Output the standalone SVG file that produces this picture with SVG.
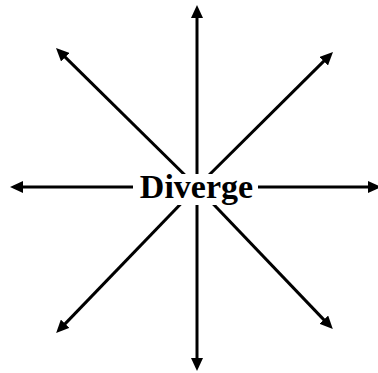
<svg xmlns="http://www.w3.org/2000/svg" width="378" height="373" viewBox="0 0 378 373">
<defs>
<marker id="ah" markerUnits="userSpaceOnUse" markerWidth="13" markerHeight="12" refX="4" refY="6" orient="auto" viewBox="0 0 13 12">
<path d="M0,0 L13,6 L0,12 z" fill="#000"/>
</marker>
<style>
.c{stroke:#000;stroke-width:3;fill:none;marker-end:url(#ah)}
.t{font-family:"Liberation Serif","Times New Roman",serif;font-weight:bold;font-size:34px;fill:#000}
</style>
</defs>
<rect width="378" height="373" fill="#fff"/>
<g id="connectors">
<line class="c" x1="197" y1="187" x2="197" y2="14"/>
<line class="c" x1="197" y1="187" x2="197" y2="362"/>
<line class="c" x1="197" y1="187" x2="19" y2="187"/>
<line class="c" x1="197" y1="187" x2="372" y2="187"/>
<line class="c" x1="197" y1="187" x2="62.4" y2="54.4"/>
<line class="c" x1="197" y1="187" x2="326.6" y2="58.4"/>
<line class="c" x1="197" y1="187" x2="62.4" y2="326.6"/>
<line class="c" x1="197" y1="187" x2="326.6" y2="322.6"/>
</g>
<g id="diverge">
<rect x="133" y="174" width="125" height="31" fill="#fff"/>
<text class="t" x="196.5" y="198" text-anchor="middle">Diverge</text>
</g>
</svg>
